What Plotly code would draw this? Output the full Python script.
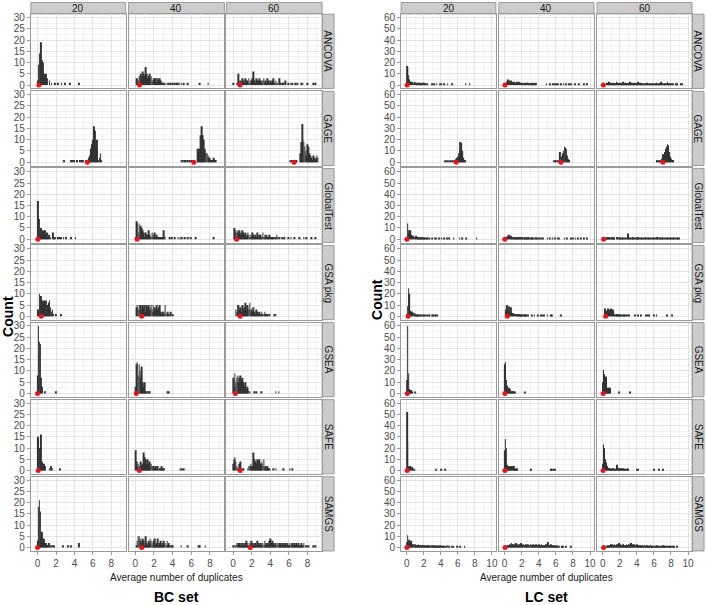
import plotly.graph_objects as go
import numpy as np

SIZES = ["20", "40", "60"]
METHODS = ["ANCOVA", "GAGE", "GlobalTest", "GSA pkg", "GSEA", "SAFE", "SAMGS"]
BIN = 0.1
BC_YTICKS = [0, 5, 10, 15, 20, 25, 30]
LC_YTICKS = [0, 10, 20, 30, 40, 50, 60]
BC_XTICKS = [0, 2, 4, 6, 8]
LC_XTICKS = [0, 2, 4, 6, 8, 10]

# ---------------- BC set (counts per 0.1 bin, starting at *_START; *_TAIL = isolated single gene sets) ----
BC_ANCOVA_START = [0.0, 0.0, 0.0]
BC_ANCOVA_COUNTS = [
    [2, 9, 14, 6, 19, 11, 10, 5, 4, 5, 3, 0, 0, 2, 0, 1],
    [0, 3, 3, 2, 4, 3, 5, 4, 6, 5, 4, 8, 5, 3, 4, 5, 3, 4, 2, 3, 2, 3, 3, 1, 3, 2, 3, 2, 1, 1, 1],
    [1, 0, 0, 0, 1, 1, 5, 1, 2, 1, 3, 2, 1, 3, 2, 2, 1, 3, 1, 2, 2, 3, 6, 2, 1, 3, 2, 2, 3, 2, 1, 2, 2, 3,
     1, 2, 1, 3, 2, 1, 2, 1, 2, 3, 1, 0, 2, 1, 1, 0, 3, 1, 0, 1, 1, 0, 2],
]
BC_ANCOVA_TAIL = [
    [1.9, 2.2, 2.6, 3.0, 3.5, 4.5],
    [3.2, 3.4, 3.6, 3.8, 4.0, 4.2, 4.4, 4.5, 4.7, 4.9, 5.2, 5.6, 6.9, 7.8],
    [5.9, 6.2, 6.4, 6.7, 6.9, 7.3, 7.5, 8.0, 8.6, 8.8],
]
BC_ANCOVA_MEAN = [0.15, 0.45, 0.75]

BC_GAGE_START = [5.5, 6.7, 7.2]
BC_GAGE_COUNTS = [
    [1, 2, 3, 6, 8, 10, 16, 14, 9, 10, 5, 1, 2, 4, 1],
    [6, 6, 6, 12, 16, 12, 10, 6, 5, 4, 4, 3, 2, 2, 1, 1, 1, 2, 1, 1],
    [4, 9, 17, 10, 9, 7, 5, 3, 8, 7, 4, 3, 2, 1, 3, 2, 1, 2, 3, 2],
]
BC_GAGE_TAIL = [
    [2.8, 2.9, 3.6, 3.8, 4.0, 4.2, 4.3, 4.6, 4.8, 4.9, 5.2],
    [4.9, 5.1, 5.3, 5.4, 5.6, 5.8, 6.0, 6.1],
    [6.1, 6.2, 6.3, 6.4, 6.7, 6.8],
]
BC_GAGE_MEAN = [5.4, 6.27, 6.55]

BC_GLOBALTEST_START = [0.0, 0.0, 0.1]
BC_GLOBALTEST_COUNTS = [
    [17, 10, 9, 3, 5, 2, 4, 3, 4, 2, 3, 1, 2, 0, 1, 0, 0, 3, 1, 1],
    [1, 8, 7, 3, 7, 2, 6, 5, 4, 3, 1, 3, 2, 2, 4, 2, 1, 1, 3, 2, 1, 3, 1, 2, 1, 1, 1, 1, 1, 1, 4, 1, 1],
    [5, 3, 4, 3, 4, 3, 4, 2, 3, 4, 3, 2, 3, 1, 2, 3, 2, 1, 2, 1, 3, 2, 1, 2, 1, 3, 1, 2, 2, 1, 1, 3, 1, 2,
     1, 2, 1, 1, 2, 1, 1, 1, 1, 0, 1, 1, 2, 1, 0, 1],
]
BC_GLOBALTEST_TAIL = [
    [2.2, 2.4, 2.6, 2.8, 3.1, 3.6, 4.1],
    [3.7, 3.9, 4.2, 4.6, 4.8, 5.0, 5.3, 5.6, 5.9, 6.5, 8.4],
    [5.3, 5.5, 5.9, 6.2, 6.6, 7.1, 7.6, 7.9, 8.4, 8.8],
]
BC_GLOBALTEST_MEAN = [0.03, 0.2, 0.38]

BC_GSA_START = [0.0, 0.1, 0.3]
BC_GSA_COUNTS = [
    [3, 2, 10, 7, 9, 7, 5, 7, 6, 7, 4, 5, 6, 7, 4, 2, 3, 1],
    [4, 5, 3, 5, 4, 5, 3, 5, 4, 5, 2, 5, 4, 5, 3, 4, 5, 3, 5, 2, 4, 3, 5, 3, 4, 5, 2, 1, 2, 1, 2, 5, 1, 1,
     2, 1, 0, 2, 0, 1],
    [3, 2, 5, 5, 3, 4, 2, 5, 3, 4, 6, 3, 5, 4, 3, 6, 2, 3, 2, 4, 2, 1, 3, 2, 1, 2, 1, 1, 2, 1, 1, 2, 1, 1,
     1, 0, 1],
]
BC_GSA_TAIL = [
    [2.0, 2.5],
    [],
    [4.4, 4.6],
]
BC_GSA_MEAN = [0.4, 0.68, 0.76]

BC_GSEA_START = [0.0, 0.0, 0.0]
BC_GSEA_COUNTS = [
    [8, 30, 23, 22, 7, 3, 0, 0, 1],
    [3, 13, 14, 8, 13, 10, 7, 12, 5, 3, 5, 1, 1, 0, 1, 1],
    [7, 3, 9, 5, 7, 8, 5, 7, 8, 6, 7, 5, 3, 5, 2, 3, 2, 1, 1],
]
BC_GSEA_TAIL = [
    [2.0],
    [3.5, 3.6],
    [2.3, 2.5, 3.0, 4.6, 4.9],
]
BC_GSEA_MEAN = [0.0, 0.1, 0.25]

BC_SAFE_START = [0.0, 0.0, 0.0]
BC_SAFE_COUNTS = [
    [15, 14, 10, 10, 16, 4, 3, 3, 2, 0, 0, 0, 0, 1, 2, 2, 1],
    [9, 4, 2, 3, 2, 1, 4, 2, 3, 8, 6, 5, 3, 5, 3, 4, 2, 3, 2, 2, 2, 1, 2, 1, 2, 0, 1, 1, 2, 1, 1, 1],
    [3, 5, 6, 4, 2, 1, 1, 3, 4, 1, 0, 1, 0, 0, 0, 0, 1, 2, 2, 3, 2, 2, 8, 5, 4, 3, 5, 4, 5, 3, 3, 4, 2, 5,
     1, 2, 1, 2, 1, 1],
]
BC_SAFE_TAIL = [
    [2.4],
    [4.8, 5.0, 5.2],
    [4.3, 4.6, 5.4, 6.1, 6.4],
]
BC_SAFE_MEAN = [0.08, 0.43, 0.76]

BC_SAMGS_START = [0.0, 0.0, 0.0]
BC_SAMGS_COUNTS = [
    [3, 18, 21, 16, 5, 7, 3, 4, 2, 2, 1, 1, 2, 0, 1, 1, 1, 0, 1],
    [0, 1, 3, 5, 5, 4, 3, 2, 4, 3, 1, 5, 2, 1, 3, 2, 4, 3, 1, 2, 3, 4, 1, 2, 4, 1, 2, 3, 1, 2, 3, 1, 2, 1,
     3, 1, 2, 1, 0, 1, 1],
    [1, 0, 1, 1, 2, 1, 2, 2, 1, 2, 1, 2, 1, 2, 3, 1, 2, 1, 2, 2, 3, 1, 2, 1, 2, 1, 3, 2, 1, 2, 1, 2, 2, 1,
     3, 1, 2, 2, 1, 3, 4, 2, 3, 2, 1, 2, 2, 1, 2, 1, 2, 2, 1, 2, 1, 2, 2, 1, 2, 1, 1, 2, 1, 2, 2, 1, 2, 1,
     2, 1, 2, 1, 1, 2, 1, 1, 2, 0, 1, 1, 0, 1, 0, 0, 0, 0, 1, 0, 1],
]
BC_SAMGS_TAIL = [
    [2.7, 2.8, 3.3, 3.6, 4.5, 4.5],
    [4.9, 5.6, 6.8, 6.9, 7.5],
    [],
]
BC_SAMGS_MEAN = [0.0, 0.68, 1.84]

# ---------------- LC set ----------------
LC_ANCOVA_START = [0.0, 0.0, 0.0]
LC_ANCOVA_COUNTS = [
    [17, 16, 9, 5, 3, 2, 3, 2, 2, 3, 2, 2, 1, 2, 2, 1, 2, 1, 1, 2, 2, 1, 1, 0, 1],
    [1, 1, 2, 3, 5, 4, 3, 4, 3, 3, 2, 3, 2, 2, 3, 2, 2, 3, 2, 2, 1, 2, 2, 1, 2, 1, 2, 2, 1, 1, 2, 1, 1, 2,
     1, 1, 1, 2],
    [0, 0, 0, 0, 0, 2, 1, 3, 1, 2, 1, 1, 2, 1, 1, 1, 3, 1, 2, 1, 2, 1, 1, 1, 3, 1, 2, 1, 1, 2, 1, 1, 3, 1,
     2, 1, 1, 1, 2, 1, 1, 3, 1, 1, 2, 1, 1, 0, 1, 1, 0, 1, 2, 1, 0, 1, 1, 0, 1, 1, 0, 1, 1, 2, 1, 0, 1, 1,
     3, 1, 1, 0, 1, 1, 0, 1, 3, 1, 1, 0, 1, 0, 1, 0, 0, 0, 1, 1, 0, 0, 0, 1, 0, 1],
]
LC_ANCOVA_TAIL = [
    [3.0, 3.2, 3.5, 3.9, 4.1, 4.4, 4.8, 5.3, 6.9, 7.4],
    [4.9, 5.3, 5.6, 5.8, 6.0, 6.2, 6.6, 6.9, 7.2, 7.5, 7.8, 8.2, 8.7, 9.3, 9.6],
    [],
]
LC_ANCOVA_MEAN = [0.04, 0.04, 0.07]

LC_GAGE_START = [5.7, 6.4, 6.9]
LC_GAGE_COUNTS = [
    [2, 3, 4, 5, 8, 10, 18, 17, 10, 4, 2, 2, 2],
    [2, 9, 1, 5, 8, 10, 14, 13, 12, 6, 3, 2, 2],
    [3, 7, 7, 5, 9, 12, 14, 16, 15, 9, 5, 3, 2, 2],
]
LC_GAGE_TAIL = [
    [4.5, 4.7, 4.9, 5.1, 5.3, 5.5],
    [5.7, 5.9, 6.0, 6.2],
    [6.3, 6.4, 6.6, 6.7],
]
LC_GAGE_MEAN = [5.8, 6.6, 7.05]

LC_GLOBALTEST_START = [0.0, 0.0, 0.0]
LC_GLOBALTEST_COUNTS = [
    [2, 14, 5, 8, 8, 4, 3, 3, 3, 2, 2, 3, 2, 1, 2, 2, 1, 1, 2, 1, 1, 1, 0, 1, 1, 0, 1],
    [0, 1, 2, 2, 3, 4, 2, 3, 1, 2, 2, 1, 2, 1, 1, 2, 1, 2, 1, 2, 1, 1, 2, 1, 1, 1, 1, 2, 1, 1, 0, 1, 1, 1,
     0, 1, 0, 1, 1, 0, 1, 0, 1, 1, 0, 1],
    [0, 0, 0, 0, 1, 1, 2, 1, 1, 0, 1, 2, 1, 1, 1, 0, 1, 2, 0, 1, 1, 1, 0, 1, 1, 0, 1, 0, 1, 1, 5, 1, 1, 0,
     1, 2, 1, 1, 0, 1, 1, 1, 2, 1, 0, 1, 1, 0, 1, 1, 2, 1, 0, 1, 1, 0, 1, 1, 0, 1, 1, 0, 1, 1, 2, 1, 0, 1,
     1, 0, 1, 1, 0, 1, 0, 1, 1, 1, 0, 1, 1, 0, 1, 1, 0, 1, 0, 1, 1, 0, 1],
]
LC_GLOBALTEST_TAIL = [
    [3.0, 3.3, 3.5, 3.8, 4.1, 4.4, 4.7, 5.0, 5.5, 6.2, 6.5, 7.0, 8.2],
    [5.0, 5.3, 5.6, 5.9, 6.2, 6.4, 7.0, 7.3, 7.8, 8.0, 8.3, 8.6, 8.9, 9.3, 9.6],
    [],
]
LC_GLOBALTEST_MEAN = [0.0, 0.03, 0.1]

LC_GSA_START = [0.0, 0.0, 0.2]
LC_GSA_COUNTS = [
    [2, 9, 25, 20, 5, 4, 4, 3, 3, 3, 2, 1, 1, 1, 1, 0, 1, 1, 0, 1, 1, 0, 1, 0, 1, 0, 1, 1, 0, 0, 1, 1, 0,
     1, 1, 0, 1],
    [0, 6, 8, 10, 6, 9, 4, 8, 3, 3, 3, 2, 2, 2, 2, 1, 1, 2, 1, 1, 1, 1, 1, 2, 1, 1, 1, 0, 1],
    [3, 7, 4, 5, 7, 3, 6, 4, 7, 3, 6, 2, 2, 1, 1, 2, 1, 1, 1, 1, 1, 0, 1, 1, 1, 0, 1, 1, 0, 1],
]
LC_GSA_TAIL = [
    [],
    [3.2, 3.5, 3.9, 4.2, 4.4, 4.6, 5.0, 5.4, 5.5, 6.6],
    [3.8, 4.1, 4.5, 5.0, 5.2, 5.4, 6.0, 6.3, 7.5, 8.1],
]
LC_GSA_MEAN = [0.15, 0.32, 0.34]

LC_GSEA_START = [0.0, 0.0, 0.0]
LC_GSEA_COUNTS = [
    [12, 60, 18, 4, 3, 3, 1, 0, 0, 0, 1],
    [26, 28, 12, 7, 5, 5, 4, 2, 2, 2, 2, 1, 1],
    [10, 21, 17, 10, 15, 3, 5, 5, 4, 5],
]
LC_GSEA_TAIL = [
    [],
    [2.4],
    [1.9, 3.2],
]
LC_GSEA_MEAN = [0.05, 0.04, 0.05]

LC_SAFE_START = [0.0, 0.0, 0.0]
LC_SAFE_COUNTS = [
    [52, 25, 3, 4, 4, 2, 3, 2, 1, 1],
    [18, 28, 20, 5, 4, 3, 4, 3, 4, 3, 4, 4, 1, 1, 2, 1],
    [6, 23, 20, 10, 7, 4, 2, 2, 2, 2, 1, 1, 2, 1, 1, 1, 2, 5, 2, 2, 1, 2, 2, 1, 2, 1, 1, 0, 1, 2, 1],
]
LC_SAFE_TAIL = [
    [3.4, 3.5, 4.0, 4.5],
    [3.0, 3.1, 5.4, 5.5, 5.7, 5.9],
    [4.0, 4.2, 6.0, 6.6, 7.1],
]
LC_SAFE_MEAN = [0.04, 0.04, 0.04]

LC_SAMGS_START = [0.0, 0.0, 0.0]
LC_SAMGS_COUNTS = [
    [5, 11, 6, 7, 5, 6, 3, 3, 3, 2, 3, 2, 2, 2, 3, 2, 2, 1, 2, 2, 2, 1, 2, 1, 2, 2, 1, 2, 1, 2, 2, 1, 2, 1,
     1, 2, 1, 1, 1, 2, 1, 0, 1, 1, 1, 0, 1, 0, 2, 0, 1, 0, 0, 1, 0, 1, 0, 0, 0, 1, 0, 0, 0, 1, 0, 0, 0, 0, 1],
    [0, 0, 0, 1, 2, 2, 3, 2, 4, 3, 3, 2, 3, 4, 3, 2, 3, 2, 3, 4, 3, 2, 3, 2, 2, 3, 2, 3, 2, 2, 3, 2, 2, 3,
     2, 2, 2, 3, 2, 2, 3, 1, 2, 3, 2, 2, 1, 2, 3, 2, 2, 5, 2, 2, 3, 2, 1, 2, 2, 1, 1, 2, 1, 0, 1, 0, 0, 1,
     1, 0, 0, 0, 1, 0, 0, 0, 0, 0, 1],
    [0, 0, 0, 0, 0, 1, 2, 1, 2, 3, 2, 3, 2, 2, 3, 2, 3, 2, 3, 4, 2, 3, 2, 2, 3, 2, 2, 1, 3, 2, 2, 3, 2, 4,
     3, 2, 2, 3, 2, 2, 3, 2, 1, 2, 2, 1, 2, 1, 1, 2, 1, 1, 2, 1, 1, 1, 2, 1, 1, 1, 0, 1, 1, 2, 1, 1, 1, 0,
     1, 1, 1, 2, 1, 1, 1, 0, 1, 0, 1, 1, 0, 1, 0, 1, 1, 0, 0, 1],
]
LC_SAMGS_TAIL = [[], [], []]
LC_SAMGS_MEAN = [0.0, 0.05, 0.1]

BC = {
    "ANCOVA": (BC_ANCOVA_START, BC_ANCOVA_COUNTS, BC_ANCOVA_TAIL, BC_ANCOVA_MEAN),
    "GAGE": (BC_GAGE_START, BC_GAGE_COUNTS, BC_GAGE_TAIL, BC_GAGE_MEAN),
    "GlobalTest": (BC_GLOBALTEST_START, BC_GLOBALTEST_COUNTS, BC_GLOBALTEST_TAIL, BC_GLOBALTEST_MEAN),
    "GSA pkg": (BC_GSA_START, BC_GSA_COUNTS, BC_GSA_TAIL, BC_GSA_MEAN),
    "GSEA": (BC_GSEA_START, BC_GSEA_COUNTS, BC_GSEA_TAIL, BC_GSEA_MEAN),
    "SAFE": (BC_SAFE_START, BC_SAFE_COUNTS, BC_SAFE_TAIL, BC_SAFE_MEAN),
    "SAMGS": (BC_SAMGS_START, BC_SAMGS_COUNTS, BC_SAMGS_TAIL, BC_SAMGS_MEAN),
}
LC = {
    "ANCOVA": (LC_ANCOVA_START, LC_ANCOVA_COUNTS, LC_ANCOVA_TAIL, LC_ANCOVA_MEAN),
    "GAGE": (LC_GAGE_START, LC_GAGE_COUNTS, LC_GAGE_TAIL, LC_GAGE_MEAN),
    "GlobalTest": (LC_GLOBALTEST_START, LC_GLOBALTEST_COUNTS, LC_GLOBALTEST_TAIL, LC_GLOBALTEST_MEAN),
    "GSA pkg": (LC_GSA_START, LC_GSA_COUNTS, LC_GSA_TAIL, LC_GSA_MEAN),
    "GSEA": (LC_GSEA_START, LC_GSEA_COUNTS, LC_GSEA_TAIL, LC_GSEA_MEAN),
    "SAFE": (LC_SAFE_START, LC_SAFE_COUNTS, LC_SAFE_TAIL, LC_SAFE_MEAN),
    "SAMGS": (LC_SAMGS_START, LC_SAMGS_COUNTS, LC_SAMGS_TAIL, LC_SAMGS_MEAN),
}

# ---------------- layout (pixels) ----------------
W, H = 707, 605
FONT = "Liberation Sans, Arial, Helvetica, sans-serif"
ROW_TOP0, ROW_STEP, ROW_H = 12.3, 77.6, 74.7
STRIP_TOP = 0.5

SETS = [
    dict(name="BC set", data=BC, cols=[(31, 126), (129, 225), (227, 323)], strip=(323, 335),
         xr=[-0.72, 9.55], yr=[-1.5, 31.5], xt=BC_XTICKS, yt=BC_YTICKS, ydt=5,
         ytitle=(8, 316), xtitle_y=579, label_y=599),
    dict(name="LC set", data=LC, cols=[(402.3, 497.3), (500.3, 595.7), (598.7, 694)], strip=(694, 706),
         xr=[-0.67, 10.47], yr=[-3, 63], xt=LC_XTICKS, yt=LC_YTICKS, ydt=10,
         ytitle=(378, 299), xtitle_y=579, label_y=599),
]

def px(x):
    return x / W

def py(y):
    return 1 - y / H

fig = go.Figure()
layout = dict(
    width=W, height=H, margin=dict(l=0, r=0, t=0, b=0), autosize=False,
    paper_bgcolor="white", plot_bgcolor="white", showlegend=False,
    font=dict(family=FONT, color="#1a1a1a"),
)
shapes, annots = [], []
GRID, MINOR, BORDER = "#e3e3e3", "#f3f3f3", "#9a9a9a"
STRIP_FILL = "#cccccc"

n = 0
for s in SETS:
    for r, m in enumerate(METHODS):
        start, counts, tail, mean = s["data"][m]
        y0 = ROW_TOP0 + r * ROW_STEP
        y1 = y0 + ROW_H
        for c in range(3):
            n += 1
            xs = {}
            for i, v in enumerate(counts[c]):
                if v:
                    k = round(start[c] + BIN * i, 2)
                    xs[k] = xs.get(k, 0) + v
            for t in tail[c]:
                k = round(t, 2)
                xs[k] = xs.get(k, 0) + 1
            keys = sorted(xs)
            xa, ya = f"x{n}", f"y{n}"
            fig.add_trace(go.Bar(x=keys, y=[xs[k] for k in keys], width=BIN * 0.8,
                                 marker=dict(color="#333333", line=dict(width=0)),
                                 xaxis=xa, yaxis=ya, hoverinfo="skip"))
            fig.add_trace(go.Scatter(x=[mean[c]], y=[0], mode="markers",
                                     marker=dict(color="#e8141c", size=5),
                                     xaxis=xa, yaxis=ya, cliponaxis=False, hoverinfo="skip"))
            x0p, x1p = s["cols"][c]
            bottom = r == len(METHODS) - 1
            left = c == 0
            layout[f"xaxis{n}"] = dict(
                domain=[px(x0p), px(x1p)], anchor=ya, range=s["xr"], fixedrange=True,
                tickmode="array", tickvals=s["xt"], ticktext=[str(v) for v in s["xt"]],
                showticklabels=bottom, ticks="outside" if bottom else "", ticklen=3,
                tickcolor=BORDER, tickfont=dict(size=10, color="#4d4d4d"),
                showgrid=True, gridcolor=GRID, gridwidth=1, zeroline=False,
                minor=dict(tickvals=[v + 1 for v in s["xt"]] + [-1], showgrid=True, gridcolor=MINOR, ticks=""),
                showline=True, mirror=True, linecolor=BORDER, linewidth=1,
            )
            layout[f"yaxis{n}"] = dict(
                domain=[py(y1), py(y0)], anchor=xa, range=s["yr"], fixedrange=True,
                tickmode="array", tickvals=s["yt"], ticktext=[str(v) for v in s["yt"]],
                showticklabels=left, ticks="outside" if left else "", ticklen=3,
                tickcolor=BORDER, tickfont=dict(size=10, color="#4d4d4d"),
                showgrid=True, gridcolor=GRID, gridwidth=1, zeroline=False,
                minor=dict(tickvals=[v + s["ydt"] / 2 for v in s["yt"]], showgrid=True, gridcolor=MINOR, ticks=""),
                showline=True, mirror=True, linecolor=BORDER, linewidth=1,
            )
            if r == 0:
                shapes.append(dict(type="rect", xref="paper", yref="paper",
                                   x0=px(x0p), x1=px(x1p), y0=py(y0 - 0.3), y1=py(STRIP_TOP),
                                   fillcolor=STRIP_FILL, line=dict(color=BORDER, width=1), layer="below"))
                annots.append(dict(text=SIZES[c], xref="paper", yref="paper",
                                   x=px((x0p + x1p) / 2), y=py((STRIP_TOP + y0) / 2),
                                   showarrow=False, font=dict(size=10, color="#1a1a1a"),
                                   xanchor="center", yanchor="middle"))
        sx0, sx1 = s["strip"]
        shapes.append(dict(type="rect", xref="paper", yref="paper",
                           x0=px(sx0), x1=px(sx1), y0=py(y1), y1=py(y0),
                           fillcolor=STRIP_FILL, line=dict(color=BORDER, width=1), layer="below"))
        annots.append(dict(text=m, xref="paper", yref="paper",
                           x=px((sx0 + sx1) / 2), y=py((y0 + y1) / 2), textangle=90,
                           showarrow=False, font=dict(size=10, color="#1a1a1a"),
                           xanchor="center", yanchor="middle"))
    cx = (s["cols"][0][0] + s["cols"][2][1]) / 2
    annots.append(dict(text="<b>Count</b>", xref="paper", yref="paper",
                       x=px(s["ytitle"][0]), y=py(s["ytitle"][1]), textangle=-90,
                       showarrow=False, font=dict(size=14, color="#000000"),
                       xanchor="center", yanchor="middle"))
    annots.append(dict(text="Average number of duplicates", xref="paper", yref="paper",
                       x=px(cx), y=py(s["xtitle_y"]), showarrow=False,
                       font=dict(size=10, color="#1a1a1a"), xanchor="center", yanchor="middle"))
    annots.append(dict(text="<b>" + s["name"] + "</b>", xref="paper", yref="paper",
                       x=px(cx), y=py(s["label_y"]), showarrow=False,
                       font=dict(size=14, color="#000000"), xanchor="center", yanchor="middle"))

layout["shapes"] = shapes
layout["annotations"] = annots
fig.update_layout(**layout)
fig.write_html("out.html", config={"displayModeBar": False})

# remove the browser's default page margin so the figure sits at the window's top-left corner
with open("out.html", "r", encoding="utf-8") as f:
    html = f.read()
html = html.replace("<head>", "<head><style>html,body{margin:0;padding:0;overflow:hidden;}</style>", 1)
with open("out.html", "w", encoding="utf-8") as f:
    f.write(html)
